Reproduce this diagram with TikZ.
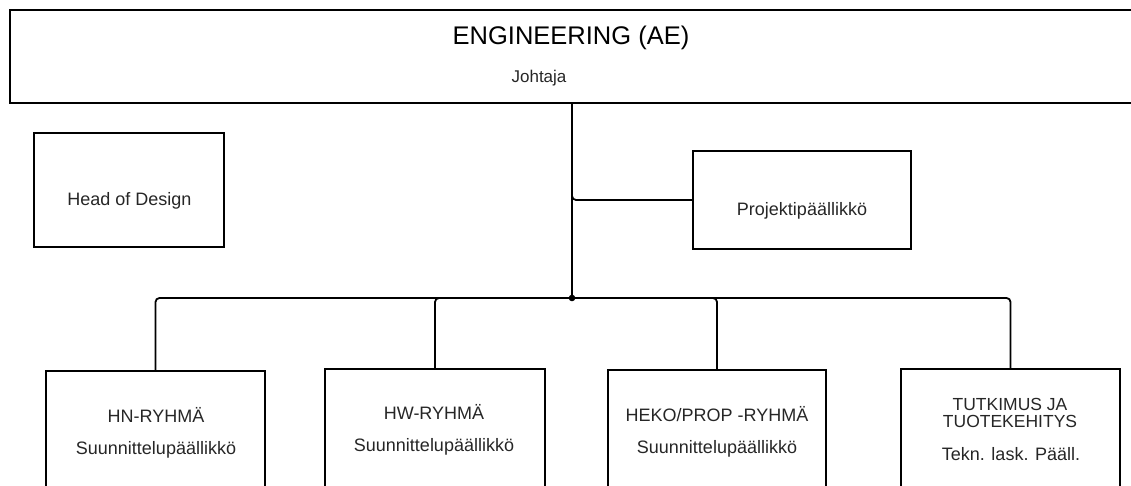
\documentclass[tikz,border=0pt]{standalone}
\usepackage{fontspec}
\setmainfont{Liberation Sans}
\begin{document}
\begin{tikzpicture}[x=1pt,y=-1pt,
  box/.style={draw, line width=1.8pt, inner sep=0pt, rectangle},
  txt/.style={anchor=base, inner sep=0pt, text=black!85,
              font=\fontsize{18}{18}\selectfont},
  link/.style={line width=1.8pt, rounded corners=4pt}]
\clip (0,0) rectangle (1131,486);

% boxes
\node[box, minimum width=1124pt, minimum height=93pt] (top)  at (572,56.5) {};
\node[box, minimum width=190pt,  minimum height=114pt] (hod) at (129,190) {};
\node[box, minimum width=218pt,  minimum height=98pt]  (proj) at (802,200) {};
\node[box, minimum width=219pt,  minimum height=129pt] (b1) at (155.5,435.5) {};
\node[box, minimum width=220pt,  minimum height=131pt] (b2) at (435,434.5) {};
\node[box, minimum width=218pt,  minimum height=130pt] (b3) at (717,435) {};
\node[box, minimum width=219pt,  minimum height=131pt] (b4) at (1010.5,434.5) {};

% texts
\node[txt, text=black, font=\fontsize{25.5}{25.5}\selectfont] (ttl) at (571,45) {ENGINEERING (AE)};
\node[txt, font=\fontsize{17}{17}\selectfont] (jht) at (539,83) {Johtaja};
\node[txt] (hodt) at (129.5,206) {Head of Design};
\node[txt] (projt) at (802,215.5) {Projektipäällikkö};
\node[txt] (b1a) at (156,422) {HN-RYHMÄ};
\node[txt] (b1b) at (156,454) {Suunnittelupäällikkö};
\node[txt] (b2a) at (434,419) {HW-RYHMÄ};
\node[txt] (b2b) at (434,451) {Suunnittelupäällikkö};
\node[txt] (b3a) at (717,421) {HEKO/PROP -RYHMÄ};
\node[txt] (b3b) at (717,453) {Suunnittelupäällikkö};
\node[txt, font=\fontsize{17.5}{17.5}\selectfont] (b4a) at (1010,410.5) {TUTKIMUS JA};
\node[txt, font=\fontsize{17.5}{17.5}\selectfont] (b4b) at (1010,427) {TUOTEKEHITYS};
\node[txt] (b4c) at (1011,460) {Tekn. lask. Pääll.};

% connectors
\coordinate (jn) at (top.south |- 0,298);
\draw[link] (top.south) -- (jn);
\draw[link] (top.south) |- (proj.west);
\foreach \b in {b1,b2,b3,b4} \draw[link] (jn) -| (\b.north);
\fill (jn) circle (3.3pt);
\end{tikzpicture}
\end{document}
